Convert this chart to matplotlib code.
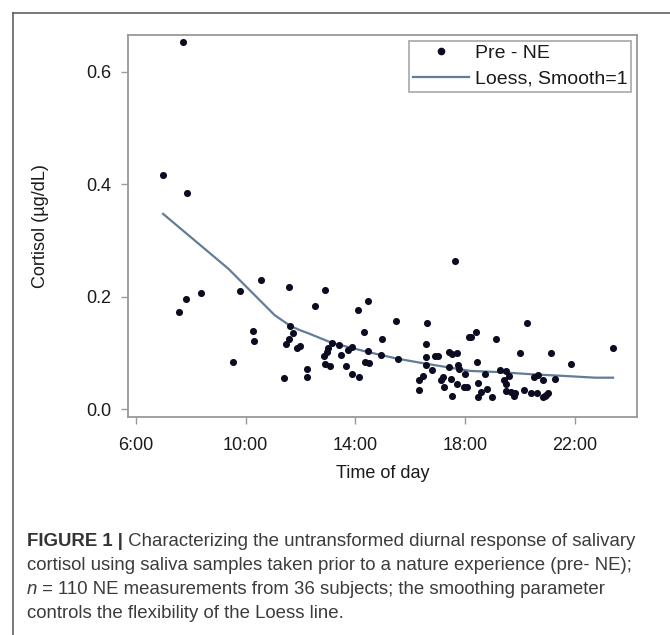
import matplotlib
matplotlib.use("Agg")
import matplotlib.pyplot as plt
from matplotlib.lines import Line2D

# cortisol samples: time of day (decimal hours) and cortisol (ug/dL)
hours = [7.56, 7.81, 8.38, 9.81, 10.56, 11.57, 10.25, 10.32, 9.53, 11.63, 11.73, 11.57,
         11.47, 11.86, 11.99, 11.41, 12.22, 12.22,
         7.70, 6.97, 7.86,
         12.90, 12.54, 14.10, 14.48, 15.49, 16.60, 17.62,
         14.32, 14.98, 16.56,
         13.14, 13.00, 12.95, 12.84, 12.88, 13.09,
         13.42, 13.47, 13.66, 13.89, 13.72, 13.89, 14.14,
         14.35, 14.50, 14.45, 14.93, 15.54,
         16.56, 16.56, 16.90, 17.00, 16.79, 16.47, 16.32, 16.32,
         17.41, 17.53, 17.71, 17.40, 17.74, 17.77,
         17.19, 17.14, 17.24, 17.50, 17.53, 17.70,
         17.99, 17.97, 18.09, 18.15,
         18.21, 18.40, 19.13, 20.26, 20.00, 21.15, 21.85, 23.40,
         18.43, 18.49, 18.57, 18.49, 18.82, 18.98, 18.74,
         19.27, 19.48, 19.62, 19.41, 19.48,
         19.49, 19.67, 19.77, 19.83,
         20.17, 20.40, 20.62,
         20.84, 20.93, 21.03, 20.95,
         20.50, 20.66, 20.83,
         21.29]
cortisol = [0.172, 0.195, 0.207, 0.210, 0.229, 0.217, 0.139, 0.121, 0.084, 0.148, 0.136, 0.124,
            0.115, 0.108, 0.113, 0.056, 0.071, 0.057,
            0.652, 0.417, 0.385,
            0.212, 0.183, 0.176, 0.192, 0.156, 0.154, 0.264,
            0.137, 0.124, 0.115,
            0.118, 0.109, 0.102, 0.095, 0.081, 0.077,
            0.114, 0.097, 0.076, 0.111, 0.106, 0.062, 0.057,
            0.084, 0.082, 0.104, 0.096, 0.089,
            0.092, 0.079, 0.094, 0.094, 0.069, 0.059, 0.051, 0.034,
            0.101, 0.098, 0.099, 0.075, 0.078, 0.071,
            0.057, 0.052, 0.040, 0.054, 0.024, 0.044,
            0.063, 0.040, 0.039, 0.128,
            0.129, 0.137, 0.124, 0.154, 0.100, 0.100, 0.081, 0.108,
            0.083, 0.046, 0.031, 0.022, 0.036, 0.021, 0.062,
            0.069, 0.067, 0.059, 0.052, 0.044,
            0.032, 0.030, 0.024, 0.029,
            0.034, 0.029, 0.028,
            0.021, 0.023, 0.029, 0.026,
            0.057, 0.060, 0.051,
            0.053]

# loess fit
loess_hours = [6.99, 9.36, 11.06, 11.63, 12.0, 12.28, 13.14, 14.42, 15.51, 16.55,
               18.19, 19.23, 20.45, 21.66, 22.75, 23.40]
loess_vals = [0.347, 0.250, 0.167, 0.148, 0.140, 0.135, 0.118, 0.102, 0.090, 0.081,
              0.068, 0.066, 0.062, 0.059, 0.056, 0.056]

xticks = [6, 10, 14, 18, 22]
xtick_labels = ["6:00", "10:00", "14:00", "18:00", "22:00"]
yticks = [0.0, 0.2, 0.4, 0.6]
ytick_labels = ["0.0", "0.2", "0.4", "0.6"]

plt.rcParams['font.family'] = ['Liberation Sans', 'DejaVu Sans']
fig = plt.figure(figsize=(6.7, 6.35), dpi=100)
ax = fig.add_axes([0.191, 0.343, 0.760, 0.602])

dot_col = '#0b0b22'
fit_col = '#627d98'
ax.scatter(hours, cortisol, s=26, color=dot_col, zorder=3, linewidths=0)
ax.plot(loess_hours, loess_vals, color=fit_col, lw=1.6, zorder=2)

ax.set_xlim(5.708, 24.28)
ax.set_ylim(-0.0142, 0.665)
ax.set_xticks(xticks)
ax.set_xticklabels(xtick_labels)
ax.set_yticks(yticks)
ax.set_yticklabels(ytick_labels)
for s in ax.spines.values():
    s.set_color('#999999')
    s.set_linewidth(1.3)
ax.tick_params(colors='#999999', labelcolor='#1a1a1a', length=5, width=1.0,
               labelsize=13)
ax.tick_params(axis='x', pad=9)
ax.tick_params(axis='y', pad=7)

ax.set_xlabel("Time of day", fontsize=13, color='#1a1a1a')
ax.set_ylabel("Cortisol (\u00b5g/dL)", fontsize=13, color='#1a1a1a')
ax.xaxis.set_label_coords(0.5, -0.126)
ax.yaxis.set_label_coords(-0.156, 0.5)

handles = [Line2D([], [], ls='none', marker='o', ms=4.5, color=dot_col),
           Line2D([], [], color=fit_col, lw=1.6)]
leg = ax.legend(handles, ["Pre - NE", "Loess, Smooth=1"], loc='upper right',
                fontsize=14, frameon=True, fancybox=False, borderaxespad=0.3,
                handlelength=2.9, handletextpad=0.3, borderpad=0.2, labelspacing=0.4)
leg.get_frame().set_edgecolor('#999999')
leg.get_frame().set_linewidth(1.3)
for t in leg.get_texts():
    t.set_color('#1a1a1a')

# partial frame around the figure panel
fig.add_artist(Line2D([0.019, 1.0], [0.979, 0.979], color='#555555', lw=1.1,
                      transform=fig.transFigure))
fig.add_artist(Line2D([0.019, 0.019], [0.979, 0.0], color='#555555', lw=1.1,
                      transform=fig.transFigure))

# caption
cap_size = 13.4
cap_col = '#3c3c3c'
x0 = 0.040
ys = [0.140, 0.102, 0.064, 0.027]
t1 = fig.text(x0, ys[0], "FIGURE 1 |", fontsize=cap_size, fontweight='bold',
              color='#333333', va='baseline')
ax.annotate(" Characterizing the untransformed diurnal response of salivary",
            xy=(1, 0), xycoords=t1, va='bottom', ha='left', fontsize=cap_size,
            color=cap_col, annotation_clip=False)
fig.text(x0, ys[1], "cortisol using saliva samples taken prior to a nature experience (pre- NE);",
         fontsize=cap_size, color=cap_col, va='baseline')
t3 = fig.text(x0, ys[2], "n", fontsize=cap_size, style='italic', color=cap_col,
              va='baseline')
ax.annotate(" = 110 NE measurements from 36 subjects; the smoothing parameter",
            xy=(1, 0), xycoords=t3, va='bottom', ha='left', fontsize=cap_size,
            color=cap_col, annotation_clip=False)
fig.text(x0, ys[3], "controls the flexibility of the Loess line.",
         fontsize=cap_size, color=cap_col, va='baseline')

fig.savefig("out.png", dpi=100)
